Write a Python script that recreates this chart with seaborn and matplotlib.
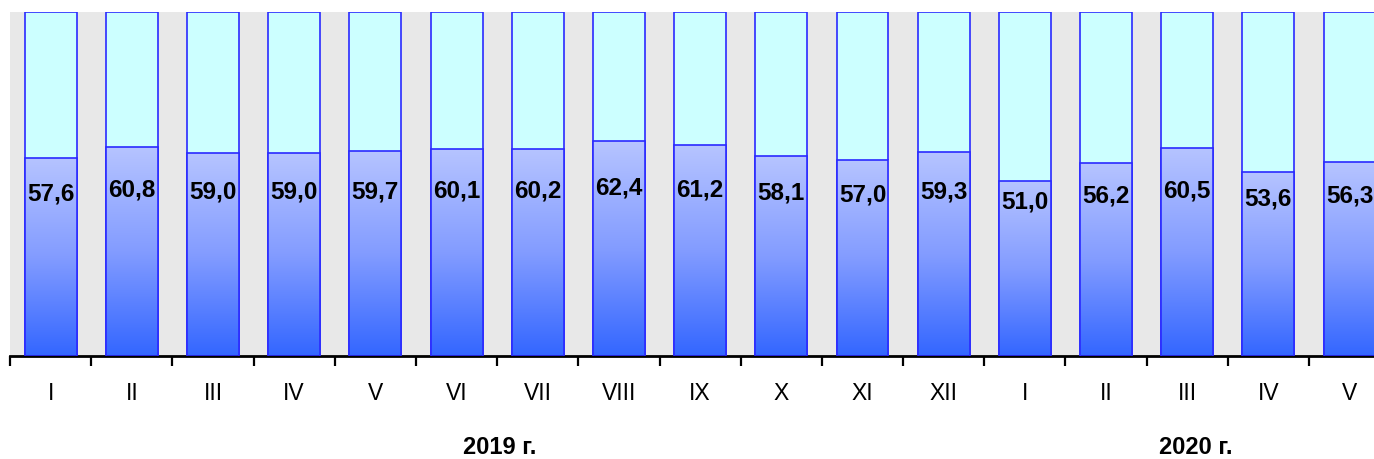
import numpy as np
import pandas as pd
import matplotlib
matplotlib.use("Agg")
import matplotlib.pyplot as plt
from matplotlib.colors import LinearSegmentedColormap
from matplotlib.ticker import FixedLocator
import seaborn as sns

months = ["I", "II", "III", "IV", "V", "VI", "VII", "VIII", "IX", "X", "XI", "XII",
          "I", "II", "III", "IV", "V"]
values = [57.6, 60.8, 59.0, 59.0, 59.7, 60.1, 60.2, 62.4, 61.2, 58.1, 57.0, 59.3,
          51.0, 56.2, 60.5, 53.6, 56.3]
years = ["2019 г.", "2020 г."]
year_centers = [5.53, 14.1]

sns.set_theme(style="white")
plt.rcParams["font.family"] = ["Liberation Sans", "DejaVu Sans"]

df = pd.DataFrame({"pos": list(range(len(values))), "value": values,
                   "total": [100.0] * len(values)})

fig = plt.figure(figsize=(13.74, 4.6), dpi=100)
ax = fig.add_axes([10 / 1374, 1 - 357 / 460, 1 - 10 / 1374, 344 / 460])
ax.set_facecolor("#E8E8E8")

edge = "#2a2aff"
sns.barplot(data=df, x="pos", y="total", color="#CCFFFF", width=0.64,
            edgecolor=edge, linewidth=1.2, saturation=1, ax=ax, zorder=1)
n_top = len(ax.patches)
sns.barplot(data=df, x="pos", y="value", color="#3366FF", width=0.64,
            edgecolor=edge, linewidth=1.2, saturation=1, ax=ax, zorder=3)
bottom_patches = ax.patches[n_top:]

cmap = LinearSegmentedColormap.from_list("g", ["#3366FF", "#839cff", "#B6C4FF"])
grad = np.linspace(0, 1, 256).reshape(-1, 1)
for p in bottom_patches:
    x0 = p.get_x()
    w = p.get_width()
    h = p.get_height()
    p.set_facecolor("none")
    p.set_zorder(3)
    im = ax.imshow(grad, cmap=cmap, origin="lower", aspect="auto",
                   extent=(x0, x0 + w, 0, h), zorder=2, interpolation="bilinear")
    im.set_clip_path(p)

for i, v in enumerate(values):
    ax.text(i, 0.35 * v + 27.2, f"{v:.1f}".replace(".", ","), ha="center", va="center",
            fontsize=17.5, fontweight="bold", color="black", zorder=5)

ax.set_xlim(-0.5, 16.3)
ax.set_ylim(0, 100)
ax.set_xlabel("")
ax.set_ylabel("")
ax.set_yticks([])
ax.set_xticks(range(len(months)))
ax.set_xticklabels(months, fontsize=16.5)
ax.xaxis.set_minor_locator(FixedLocator(np.arange(-0.5, len(months), 1.0)))
ax.tick_params(axis="x", which="major", length=0, pad=18, colors="black")
ax.tick_params(axis="x", which="minor", length=7, width=1.6, color="black", bottom=True)
for s in ["top", "right", "left"]:
    ax.spines[s].set_visible(False)
ax.spines["bottom"].set_color("black")
ax.spines["bottom"].set_linewidth(2)

for yl, xc in zip(years, year_centers):
    ax.text(xc, -0.264, yl, transform=ax.get_xaxis_transform(), ha="center",
            va="center", fontsize=17, fontweight="bold", color="black")

fig.savefig("out.png", dpi=100)
